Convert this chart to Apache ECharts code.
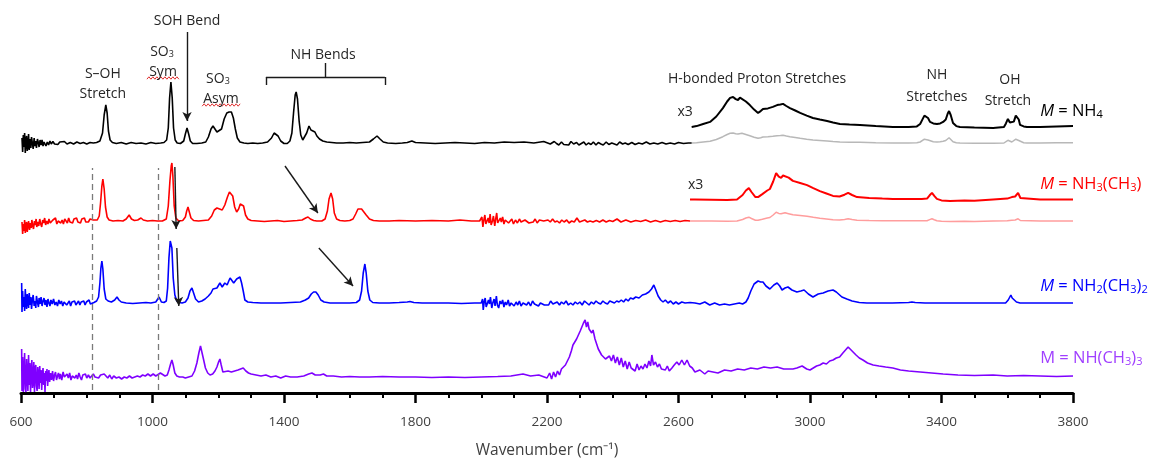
<!DOCTYPE html>
<html><head><meta charset="utf-8">
<script src="https://cdn.jsdelivr.net/npm/echarts@6/dist/echarts.min.js"></script>
<style>html,body{margin:0;padding:0;background:#fff}#chart{width:1152px;height:459px}</style>
</head><body><div id="chart"></div>
<script>
// Axis ticks (wavenumber, cm^-1)
const xTicks = [600, 1000, 1400, 1800, 2200, 2600, 3000, 3400, 3800];

// IR intensities (arbitrary units) per cation, [wavenumber, intensity]
const specNH4 = [[603,5],[605,-9],[607,8],[609,-4],[611,10],[613,-10],[615,3],[617,7],[619,-8],[621,-2],[623,9],[625,-7],[628,4],[630,-5],[632,6],[635,-1],[637,-6],[640,5],[642,-3],[645,2],[647,-5],[650,4],[653,0],[655,-4],[658,3],[661,-2],[664,3],[667,-3],[670,1],[673,2],[676,-3],[680,1],[684,-2],[688,2],[692,-1],[697,1.5],[702,-1],[707,0.5],[712,-1.5],[718,1],[724,-1],[732,1.5],[740,-1],[750,0.5],[760,-1],[770,1],[780,-0.5],[790,0.5],[800,-1],[810,0.5],[820,0],[830,0.5],[840,2],[848,10],[853,28],[858,38],[862,30],[866,12],[871,3],[878,0.5],[890,-0.5],[905,0.5],[920,-1],[935,0.5],[950,-0.5],[965,0],[980,-1],[995,0.5],[1010,-0.5],[1025,0],[1035,0.5],[1043,3],[1048,15],[1052,45],[1056,61],[1060,45],[1064,15],[1069,3],[1075,0],[1085,-0.5],[1095,2],[1100,9],[1105,15],[1110,9],[1115,2],[1122,-0.5],[1135,-0.5],[1150,0],[1162,1],[1170,6],[1178,14],[1184,17],[1190,14],[1196,11],[1202,11],[1210,14],[1218,24],[1226,30],[1233,31],[1240,31],[1246,25],[1252,14],[1258,5],[1266,1],[1278,0],[1290,-0.5],[1305,0],[1320,-0.5],[1335,0],[1350,1],[1362,5],[1370,10],[1376,11],[1382,7],[1390,2],[1400,-0.5],[1410,-0.5],[1418,2],[1424,10],[1429,30],[1434,48],[1437,51],[1441,44],[1446,22],[1451,8],[1457,3],[1463,4],[1469,10],[1476,17],[1482,13],[1488,12],[1494,11],[1500,7],[1508,4],[1518,2],[1530,1],[1545,0.5],[1560,0],[1580,0],[1600,0.5],[1620,0],[1640,0.5],[1660,1],[1672,4],[1683,7],[1692,4],[1702,1],[1715,0],[1740,-0.5],[1760,0],[1775,0.5],[1789,2],[1800,0.5],[1830,0],[1860,-0.5],[1890,0],[1920,0.5],[1950,0],[1980,-0.5],[2010,0.5],[2040,0],[2070,1],[2100,0.5],[2130,1],[2160,0],[2190,1.5],[2210,-1],[2222,1.5],[2229,-0.5],[2236,-2],[2244,1],[2251,-1.5],[2257,0],[2266,-2],[2273,1.5],[2281,-1],[2290,0.5],[2297,-2],[2303,-0.5],[2312,1],[2319,-2],[2326,0],[2334,-1.5],[2341,1],[2349,-2],[2356,0.5],[2364,-1],[2371,-2],[2380,1],[2388,-1.5],[2397,0],[2405,-1],[2413,-2],[2421,1],[2430,-1],[2438,0],[2447,-1.5],[2458,0.5],[2468,-1.5],[2479,0],[2490,-1],[2502,1],[2513,-1],[2525,0],[2537,-1],[2550,0.5],[2562,-1],[2575,0],[2588,-1],[2600,0.5],[2615,-0.5],[2630,0],[2640,0],[2655,0.3],[2675,1],[2696,1.7],[2715,3.5],[2735,6.3],[2748,8.5],[2757,9.7],[2766,10],[2774,9.3],[2781,9],[2787,9.8],[2793,9.7],[2805,8.5],[2817,7.3],[2830,5.8],[2842,4.7],[2850,5.3],[2857,6],[2872,6.2],[2887,6.7],[2900,7.3],[2910,7.5],[2918,7.7],[2928,7],[2939,6.3],[2955,5.5],[2970,4.7],[2990,3.8],[3009,3],[3030,2.5],[3052,2],[3070,1.5],[3091,1],[3120,0.8],[3152,0.7],[3200,0.3],[3252,0],[3300,0],[3325,0.2],[3335,1],[3341,2.3],[3348,3.8],[3353,4],[3359,3],[3365,1.7],[3375,1.2],[3386,1],[3396,1.2],[3405,1.7],[3413,2.5],[3419,4.5],[3423,5.3],[3428,4],[3435,1.3],[3445,0.3],[3456,0],[3500,-0.2],[3557,-0.3],[3590,0],[3596,1.2],[3602,2.7],[3608,1.5],[3614,1],[3620,1.8],[3626,3.8],[3630,4.3],[3635,2.5],[3639,0.7],[3650,0.2],[3660,0],[3700,0],[3750,0.2],[3800,0.3]];

const specNH3CH3 = [[603,-1],[605,-13],[607,-3],[609,-10],[611,1],[613,-12],[615,-4],[617,-1],[619,-11],[621,-6],[623,0],[626,-9],[628,-2],[631,-7],[633,1],[636,-5],[638,-8],[641,0],[643,-4],[646,2],[648,-6],[651,-1],[654,-5],[657,2],[660,-3],[663,-6],[666,1],[669,-2],[672,3],[675,-4],[678,0],[682,-3],[685,2],[689,-2],[693,-4],[697,1],[701,-1],[705,3],[709,-3],[713,0],[717,2],[721,-2],[725,1],[729,-3],[733,2],[737,0],[741,-2],[745,3],[749,-1],[753,1],[757,-2],[761,2],[765,0],[769,3],[773,-1],[777,1],[781,-2],[785,2],[789,0],[793,3],[797,-1],[801,1],[805,-1],[810,2],[815,0],[820,1],[825,0],[832,1],[838,5],[842,18],[846,35],[849,42],[853,32],[857,14],[862,4],[868,1],[880,0],[895,0.5],[910,0],[920,2],[929,6],[936,2],[945,0.5],[955,1],[965,3],[972,1],[985,0],[1000,0.5],[1015,0],[1030,0],[1042,2],[1048,15],[1053,40],[1057,55],[1059,58],[1062,45],[1066,15],[1071,3],[1080,0],[1092,0.5],[1100,4],[1104,10],[1108,14],[1112,9],[1117,3],[1125,0.5],[1140,0],[1155,0.5],[1170,1],[1180,5],[1188,11],[1196,13],[1204,12],[1212,11],[1220,16],[1228,24],[1234,29],[1239,30],[1244,25],[1250,14],[1256,9],[1262,12],[1267,17],[1272,19],[1277,15],[1283,6],[1290,2],[1300,0.5],[1320,0],[1340,-0.5],[1360,0],[1380,0.5],[1400,-0.5],[1420,0],[1440,0.5],[1455,1],[1466,3],[1473,4],[1480,2],[1490,0.5],[1500,0],[1515,0],[1525,2],[1532,10],[1537,22],[1543,28],[1548,22],[1553,8],[1560,2],[1570,0.5],[1585,0],[1600,0.5],[1610,2],[1618,7],[1625,12],[1630,13],[1636,12],[1642,10],[1650,6],[1660,2],[1672,0.5],[1690,0],[1720,0],[1750,0.5],[1800,0],[1850,0.5],[1900,0],[1935,1],[1970,0],[1995,0],[2002,4],[2005,-6],[2008,1],[2011,6],[2014,-3],[2017,-5],[2021,3],[2024,-2],[2027,7],[2030,-4],[2034,0],[2037,5],[2041,-5],[2044,2],[2047,8],[2050,-2],[2054,-4],[2058,3],[2061,-1],[2065,4],[2069,-3],[2073,1],[2078,3],[2083,-2],[2088,0],[2093,2],[2098,-3],[2104,1],[2110,-2],[2116,2],[2121,-1],[2127,-2],[2133,1],[2139,2],[2145,-2],[2151,0],[2158,-1],[2164,2],[2170,-2],[2177,1],[2183,-1],[2190,0],[2196,-2],[2203,1],[2210,-1],[2217,2],[2224,-1],[2231,0],[2238,-2],[2245,1],[2252,-1],[2260,1],[2267,-2],[2275,0],[2283,-1],[2291,3],[2299,-1],[2307,0],[2315,1],[2323,-1],[2331,0],[2340,-1],[2350,0.5],[2360,-1],[2370,1],[2380,-1],[2390,0.5],[2400,-0.5],[2413,2],[2425,-1],[2440,1],[2455,-1],[2470,0.5],[2485,-0.5],[2500,1],[2515,-1],[2530,0.5],[2545,-1],[2560,0.5],[2575,-0.5],[2590,0.5],[2605,-0.5],[2620,0.5],[2635,0],[2650,0],[2700,-0.1],[2748,-0.2],[2778,0],[2795,1.5],[2805,3],[2814,3.8],[2822,2.5],[2834,0.8],[2842,0.8],[2855,1.8],[2870,3],[2878,3.5],[2888,6],[2897,8.8],[2905,7.6],[2912,7.2],[2918,8],[2924,8.2],[2935,7.3],[2948,6.2],[2970,5.5],[2991,4.8],[3010,3.8],[3030,2.8],[3050,2],[3070,1.2],[3090,1],[3105,1.6],[3116,2.2],[3128,1.5],[3143,0.8],[3180,0.5],[3220,0.3],[3252,0.2],[3300,0.2],[3340,0.2],[3356,0.3],[3364,1.4],[3371,2.2],[3378,1.2],[3386,0.2],[3400,-0.3],[3426,-0.5],[3470,-0.3],[3500,-0.4],[3557,0],[3600,0.3],[3614,0.8],[3624,1],[3633,2.2],[3640,0.5],[3645,0],[3700,0],[3750,0],[3800,0]];

const specNH2CH32 = [[602,20],[603,-9],[605,12],[607,-4],[609,6],[611,-8],[613,14],[615,0],[617,-6],[619,9],[621,3],[623,-5],[625,10],[628,-2],[630,6],[632,-6],[635,4],[637,8],[640,-3],[642,2],[645,-5],[647,7],[650,1],[653,-4],[655,5],[658,-1],[661,6],[664,-3],[667,2],[670,5],[673,-2],[676,3],[679,-4],[682,4],[685,0],[688,-3],[691,3],[695,-1],[699,4],[703,-2],[707,1],[711,-3],[715,3],[719,-1],[723,2],[727,-3],[731,1],[735,3],[739,-2],[743,0],[747,2],[751,-3],[755,1],[759,-1],[763,2],[767,-2],[771,0],[775,2],[779,-2],[783,1],[787,-1],[791,2],[795,-2],[799,1],[803,0],[807,3],[811,-1],[816,1],[822,0.5],[830,2],[836,6],[840,20],[843,35],[846,42],[849,34],[853,14],[858,4],[865,2],[875,1],[885,3],[892,6],[898,3],[905,1],[920,0],[940,-0.5],[960,0],[980,0.5],[995,0],[1010,1],[1020,6],[1027,1],[1035,0.5],[1042,2],[1046,15],[1050,45],[1054,62],[1056,64],[1059,55],[1063,25],[1068,8],[1074,2],[1082,0.5],[1090,0],[1100,1],[1108,5],[1114,12],[1120,15],[1125,10],[1131,4],[1140,1],[1150,2],[1160,4],[1170,7],[1178,10],[1184,14],[1190,12],[1196,15],[1205,20],[1212,16],[1220,20],[1227,18],[1232,22],[1236,25],[1242,25],[1247,20],[1251,20],[1256,24],[1262,26],[1266,26],[1271,20],[1276,12],[1281,3],[1290,1],[1305,0.5],[1330,0],[1360,0],[1390,0],[1420,0.5],[1450,1],[1465,3],[1475,5],[1483,9],[1490,11],[1497,11],[1504,8],[1512,3],[1522,1],[1540,0],[1570,0],[1600,0],[1620,0.5],[1630,3],[1636,12],[1641,30],[1646,39],[1650,30],[1655,12],[1661,3],[1670,0.5],[1690,0],[1720,0],[1750,0.5],[1775,1],[1783,1.5],[1795,0.5],[1820,0],[1860,0],[1900,0],[1940,-0.5],[1980,0],[2000,0],[2004,4],[2006,-7],[2009,1],[2012,5],[2015,-4],[2018,-6],[2022,3],[2025,-1],[2028,6],[2032,-5],[2035,0],[2039,4],[2042,-3],[2046,7],[2049,-2],[2053,-5],[2057,2],[2061,-1],[2065,3],[2069,-4],[2073,1],[2077,-2],[2082,3],[2086,-3],[2091,0],[2096,2],[2100,-3],[2106,1],[2111,-2],[2116,2],[2121,-3],[2127,0],[2133,2],[2138,-2],[2144,1],[2150,-3],[2156,2],[2162,-1],[2168,1],[2174,-3],[2180,0],[2186,2],[2192,-2],[2198,0],[2205,-2],[2211,2],[2218,-1],[2224,-3],[2231,1],[2238,-2],[2244,1],[2251,-1],[2258,2],[2265,-2],[2272,0],[2279,-2],[2286,1],[2293,-1],[2300,1],[2307,-2],[2314,2],[2321,0],[2328,-2],[2335,1],[2342,-1],[2349,2],[2356,0],[2363,-1],[2370,2],[2377,0],[2384,-1],[2391,2],[2398,1],[2405,0],[2412,2],[2419,1],[2426,3],[2433,1],[2440,4],[2447,2],[2454,5],[2462,4],[2470,6],[2480,5],[2490,8],[2500,9],[2510,11],[2518,14],[2525,18],[2531,13],[2538,7],[2546,3],[2553,1],[2560,3],[2568,0],[2576,2],[2584,-1],[2592,1],[2600,-1],[2610,1],[2620,0],[2635,0.5],[2650,0],[2665,-1],[2680,1],[2695,-2],[2710,0],[2725,-2],[2740,-1],[2755,-2],[2770,-1],[2785,0],[2795,-1],[2805,1],[2812,5],[2820,12],[2830,19],[2842,22],[2850,21],[2857,21],[2866,17],[2878,14],[2890,18],[2900,20],[2908,17],[2915,13],[2924,15],[2933,16],[2945,13],[2960,11],[2972,12],[2982,13],[2995,9],[3009,6],[3025,9],[3040,10],[3055,12],[3070,13],[3080,11],[3097,6],[3112,4],[3128,2],[3150,0.5],[3173,0],[3250,0],[3300,0.5],[3310,1],[3320,0.5],[3350,0],[3450,0],[3550,0],[3595,0],[3603,3],[3611,8],[3615,5],[3620,3],[3628,1],[3639,0],[3700,0],[3800,0]];

const specNHCH33 = [[602,28],[603,-14],[605,20],[607,-15],[609,5],[611,24],[613,-12],[615,-15],[617,18],[619,2],[621,-14],[623,22],[625,-8],[627,14],[629,-15],[631,6],[633,17],[635,-11],[637,-3],[639,15],[641,-15],[643,8],[645,12],[647,-9],[649,-14],[651,10],[653,3],[655,-12],[657,11],[659,-6],[661,7],[663,-13],[665,2],[667,9],[669,-8],[671,4],[673,-15],[675,6],[677,-4],[679,8],[681,-9],[683,2],[685,7],[687,-5],[690,4],[693,-3],[696,6],[699,-4],[702,2],[705,5],[708,-3],[711,1],[714,4],[717,-2],[720,3],[724,-3],[728,5],[732,0],[736,-2],[740,3],[744,-1],[748,4],[752,-3],[756,1],[760,3],[764,-1],[768,2],[772,-2],[776,4],[780,0],[784,-3],[788,2],[792,0],[796,3],[800,-1],[805,2],[810,-1],[815,1],[820,3],[825,0],[830,2],[836,-1],[842,2],[848,0],[853,3],[858,1],[864,-1],[870,2],[876,-2],[882,1],[890,-1],[898,0],[906,-2],[914,0],[922,-1],[930,1],[938,-1],[946,0],[954,1],[962,0],[970,2],[978,1],[986,3],[994,1],[1002,3],[1010,1],[1016,2],[1024,4],[1030,2],[1038,1],[1045,2],[1050,7],[1055,13],[1059,17],[1063,12],[1068,4],[1074,1],[1082,0],[1092,0],[1100,-1],[1110,0],[1120,1],[1128,6],[1135,14],[1141,24],[1146,31],[1150,29],[1155,18],[1161,9],[1168,4],[1175,2],[1183,3],[1190,6],[1196,10],[1201,15],[1205,18],[1209,12],[1214,5],[1220,4],[1230,6],[1240,5],[1250,6],[1260,7],[1268,8],[1276,9],[1284,6],[1292,4],[1300,3],[1315,2],[1330,1],[1345,2],[1360,0],[1375,1],[1390,-1],[1405,1],[1420,0],[1440,0],[1460,1],[1475,3],[1485,4],[1495,2],[1510,2],[1520,3],[1530,1],[1550,1],[1575,0],[1600,0.5],[1630,0],[1660,0],[1700,0.5],[1750,0],[1800,0],[1850,-0.5],[1900,0],[1950,-0.5],[2000,0],[2050,0.5],[2090,1],[2127,3],[2150,1],[2175,2],[2200,-1],[2208,4],[2214,-2],[2220,5],[2226,0],[2232,6],[2238,2],[2244,8],[2250,7],[2256,12],[2262,16],[2268,20],[2274,26],[2279,32],[2285,33],[2290,38],[2296,40],[2301,46],[2306,50],[2311,54],[2316,57],[2320,50],[2324,55],[2328,48],[2331,50],[2336,44],[2340,47],[2346,38],[2352,32],[2356,28],[2361,26],[2366,22],[2372,24],[2378,18],[2383,19],[2390,21],[2396,16],[2402,22],[2408,14],[2414,20],[2420,12],[2426,19],[2432,10],[2438,16],[2444,8],[2450,15],[2456,9],[2462,10],[2468,6],[2474,13],[2480,7],[2486,11],[2492,8],[2498,13],[2504,9],[2510,16],[2515,11],[2519,22],[2524,12],[2530,15],[2536,10],[2542,13],[2548,8],[2553,10],[2560,7],[2566,11],[2572,6],[2580,9],[2587,12],[2595,15],[2602,12],[2610,17],[2618,12],[2626,17],[2634,11],[2642,9],[2650,5],[2665,7],[2680,3],[2690,6],[2705,5],[2720,4],[2740,7],[2760,6],[2780,8],[2800,7],[2820,9],[2840,8],[2860,10],[2880,9],[2900,10],[2920,8],[2948,8],[2960,9],[2976,11],[2990,8],[3000,7],[3010,9],[3020,11],[3030,12],[3040,14],[3050,13],[3060,16],[3070,17],[3080,19],[3090,20],[3100,24],[3108,27],[3116,30],[3122,28],[3131,25],[3140,22],[3150,19],[3161,17],[3175,14],[3192,12],[3210,11],[3230,10],[3252,9],[3275,7],[3300,6],[3335,5],[3370,4],[3405,3],[3450,2],[3500,1.5],[3557,2],[3600,1],[3650,1.5],[3700,1],[3750,0.5],[3800,1]];

// Vertical stacking offsets and the x3 magnified high-frequency region
const offsetNH4 = 250, offsetNH4x3 = 266;
const offsetNH3CH3 = 172, offsetNH3CH3x3 = 193.5;
const offsetNH2CH32 = 90;
const offsetNHCH33 = 16;
const magnify = 3;
const cutNH4 = 2640, cutNH3CH3 = 2635;

// Dashed guides through the S–OH stretch and SO3 sym regions
const guideWavenumbers = [818, 1016];

const chart = echarts.init(document.getElementById('chart'), null, {renderer: 'canvas'});

const shift = (arr, off, k = 1) => arr.map(([w, v]) => [w, off + k * v]);
const upTo = (arr, c) => arr.filter(p => p[0] <= c);
const from = (arr, c) => arr.filter(p => p[0] >= c);

const lineSeries = (name, data, color, width = 1.6) => ({
  name, type: 'line', data, showSymbol: false, symbol: 'none', animation: false,
  lineStyle: {color, width}, z: 3, silent: true
});

const seg = (a, b) => [{coord: a}, {coord: b}];

const series = [
  lineSeries('NH4 ×1 tail', shift(from(specNH4, cutNH4), offsetNH4), '#b8b8b8', 1.5),
  lineSeries('NH4', shift(upTo(specNH4, cutNH4), offsetNH4), '#000000'),
  lineSeries('NH4 ×3', shift(from(specNH4, cutNH4), offsetNH4x3, magnify), '#000000', 2),
  lineSeries('NH3CH3 ×1 tail', shift(from(specNH3CH3, cutNH3CH3), offsetNH3CH3), '#ff9d9d', 1.5),
  lineSeries('NH3CH3', shift(upTo(specNH3CH3, cutNH3CH3), offsetNH3CH3), '#ff0000'),
  lineSeries('NH3CH3 ×3', shift(from(specNH3CH3, cutNH3CH3), offsetNH3CH3x3, magnify), '#ff0000', 2),
  lineSeries('NH2(CH3)2', shift(specNH2CH32, offsetNH2CH32), '#0000ff'),
  lineSeries('NH(CH3)3', shift(specNHCH33, offsetNHCH33), '#7f00ff'),
  // guides, arrows and bracket
  {
    type: 'line', data: [], silent: true, animation: false,
    markLine: {
      silent: true, symbol: ['none', 'none'], animation: false, label: {show: false},
      lineStyle: {color: '#7a7a7a', type: [6, 4], width: 1.3},
      data: guideWavenumbers.map(w => seg([w, 3], [w, 225]))
    }
  },
  {
    type: 'line', data: [], silent: true, animation: false, z: 5,
    markLine: {
      silent: true, symbol: ['none', 'arrow'], symbolSize: [7, 9], animation: false, label: {show: false},
      lineStyle: {color: '#1a1a1a', type: 'solid', width: 1.4},
      data: [
        seg([1105, 361], [1105, 272]),
        seg([1068, 226], [1072, 164]),
        seg([1074, 145], [1080, 87]),
        seg([1403, 227], [1503, 180]),
        seg([1506, 145], [1610, 107])
      ]
    }
  },
  {
    type: 'line', data: [], silent: true, animation: false,
    markLine: {
      silent: true, symbol: ['none', 'none'], animation: false, label: {show: false},
      lineStyle: {color: '#1a1a1a', type: 'solid', width: 1.4},
      data: [
        seg([1345, 308], [1345, 316]),
        seg([1345, 316], [1707, 316]),
        seg([1707, 316], [1707, 308]),
        seg([1525, 316], [1525, 330])
      ]
    }
  }
];

chart.setOption({
  backgroundColor: '#ffffff',
  animation: false,
  grid: {left: 21, right: 79, top: 0, bottom: 66, containLabel: false, outerBoundsMode: 'none'},
  xAxis: {
    type: 'value', min: xTicks[0], max: xTicks[xTicks.length - 1], interval: 400,
    name: 'Wavenumber (cm⁻¹)', nameLocation: 'middle', nameGap: 50,
    nameTextStyle: {fontFamily: 'Open Sans', fontSize: 15.5, color: '#404040'},
    axisLine: {lineStyle: {color: '#000', width: 3}},
    axisTick: {show: true, length: 10, lineStyle: {color: '#000', width: 2.5}},
    minorTick: {show: true, splitNumber: 4, length: 5, lineStyle: {color: '#000', width: 2}},
    splitLine: {show: false},
    axisLabel: {fontFamily: 'Open Sans', fontSize: 13.5, color: '#404040', margin: 22,
      formatter: v => xTicks.includes(v) ? String(v) : ''}
  },
  yAxis: {type: 'value', min: 0, max: 393, show: false},
  series
});

// Annotations anchored in data coordinates
const px = (w, v) => chart.convertToPixel({gridIndex: 0}, [w, v]);
const baseFont = 'Open Sans';
const subRich = (size, color) => ({
  n: {fontFamily: baseFont, fontSize: size, fill: color, lineHeight: size + 4, verticalAlign: 'bottom'},
  i: {fontFamily: baseFont, fontSize: size, fill: color, fontStyle: 'italic', lineHeight: size + 4, verticalAlign: 'bottom'},
  s: {fontFamily: baseFont, fontSize: Math.round(size * 0.65), fill: color, lineHeight: Math.round(size * 0.5), verticalAlign: 'bottom'}
});
const textAt = (w, v, text, opt = {}) => {
  const [x, y] = px(w, v);
  const size = opt.size || 14;
  const color = opt.color || '#262626';
  return {
    type: 'text', x, y, z: 10, silent: true,
    style: {
      text, fill: color, fontFamily: baseFont, fontSize: size,
      align: opt.align || 'center', verticalAlign: 'middle',
      rich: subRich(size, color)
    }
  };
};
const squiggle = (w1, w2, v) => {
  const [x1, y] = px(w1, v);
  const [x2] = px(w2, v);
  const pts = [];
  let k = 0;
  for (let x = x1; x <= x2; x += 2, k++) pts.push([x, y + (k % 2 ? -1.2 : 1.2)]);
  return {type: 'polyline', silent: true, z: 9, shape: {points: pts}, style: {stroke: '#e03030', lineWidth: 1, fill: null}};
};

chart.setOption({
  graphic: [
    textAt(1105, 374, '{n|SOH Bend}'),
    textAt(1029, 343, '{n|SO}{s|3}'),
    textAt(1032, 323, '{n|Sym}'),
    squiggle(983, 1083, 315),
    textAt(849, 321, '{n|S–OH}'),
    textAt(849, 301, '{n|Stretch}'),
    textAt(1199, 316, '{n|SO}{s|3}'),
    textAt(1208, 296, '{n|Asym}'),
    squiggle(1151, 1270, 288),
    textAt(1519, 340, '{n|NH Bends}'),
    textAt(2839, 316, '{n|H-bonded Proton Stretches}'),
    textAt(3386, 320, '{n|NH}'),
    textAt(3386, 298, '{n|Stretches}'),
    textAt(3608, 315, '{n|OH}'),
    textAt(3602, 294, '{n|Stretch}'),
    textAt(2620, 283, '{n|x3}'),
    textAt(2652, 210, '{n|x3}'),
    textAt(3700, 283, '{i|M}{n| = NH}{s|4}', {size: 16.5, align: 'left', color: '#000000'}),
    textAt(3700, 210, '{i|M}{n| = NH}{s|3}{n|(CH}{s|3}{n|)}', {size: 16.5, align: 'left', color: '#ff0000'}),
    textAt(3700, 108, '{i|M}{n| = NH}{s|2}{n|(CH}{s|3}{n|)}{s|2}', {size: 16.5, align: 'left', color: '#0000ff'}),
    textAt(3700, 36, '{n|M = NH(CH}{s|3}{n|)}{s|3}', {size: 16.5, align: 'left', color: '#a040ff'})
  ]
});
</script></body></html>
